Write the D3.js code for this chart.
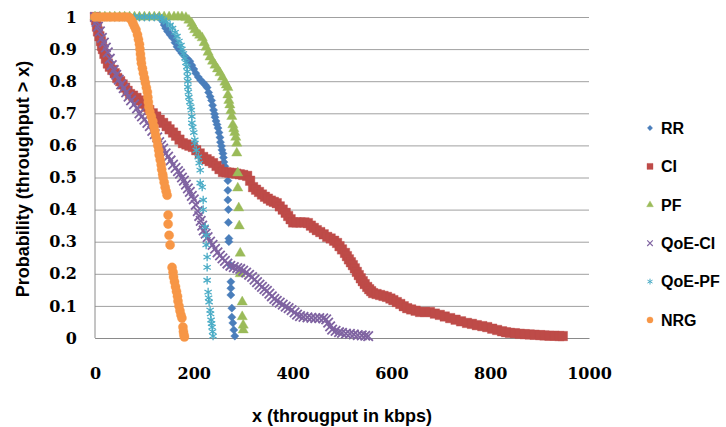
<!DOCTYPE html>
<html>
<head>
<meta charset="utf-8">
<script src="https://cdn.jsdelivr.net/npm/d3@7"></script>
<style>
  body { margin: 0; background: #fff; }
  svg { display: block; }
</style>
</head>
<body>
<div id="chart"></div>
<script>
// CCDF points: [throughput kbps, probability]
const rr = [[0,1],[10,1],[20,1],[30,1],[40,1],[50,1],[60,1],[70,1],[80,1],[90,1],[100,1],[110,1],[120,1],[128,1],
  [134,0.995],[138,0.985],[140,0.975],[143,0.965],[147,0.955],[152,0.945],[157,0.935],[162,0.92],[166,0.907],
  [171,0.897],[176,0.887],[182,0.877],[187,0.87],[192,0.862],[196,0.85],[200,0.838],[204,0.825],[209,0.813],
  [214,0.803],[219,0.795],[224,0.787],[227,0.78],[230,0.765],[233,0.752],[236,0.74],[238,0.725],[240,0.71],
  [242,0.698],[243,0.688],[245,0.676],[247,0.665],[249,0.654],[251,0.64],[253,0.625],[254,0.61],[256,0.598],
  [257,0.586],[259,0.575],[260,0.562],[261,0.548],[263,0.535],[269,0.49],[269,0.46],[269,0.43],[270,0.40],
  [270,0.36],[271,0.31],[271,0.30],[274,0.227],[275,0.175],[275,0.155],[275,0.134],[277,0.093],[277,0.065],
  [279,0.047],[281,0.025],[283,0.006]];

const ci = [[0,1],[2,0.99],[4,0.97],[6,0.955],[9,0.94],[12,0.925],[14,0.91],[16,0.9],[19,0.885],[22,0.87],
  [26,0.855],[30,0.845],[35,0.835],[40,0.825],[45,0.81],[51,0.80],[56,0.79],[61,0.78],[66,0.77],[71,0.76],
  [77,0.755],[84,0.748],[91,0.74],[97,0.73],[104,0.72],[110,0.71],[117,0.70],[124,0.69],[131,0.68],[138,0.67],
  [145,0.66],[151,0.65],[158,0.64],[164,0.63],[171,0.618],[178,0.607],[185,0.603],[191,0.599],[198,0.595],
  [205,0.585],[212,0.575],[219,0.564],[226,0.557],[232,0.551],[239,0.545],[246,0.536],[252,0.526],[259,0.517],
  [266,0.516],[272,0.515],[279,0.514],[286,0.512],[293,0.51],[300,0.508],[308,0.505],[314,0.49],[320,0.47],
  [326,0.462],[332,0.455],[338,0.447],[344,0.44],[350,0.434],[356,0.428],[362,0.424],[368,0.42],[374,0.41],
  [380,0.40],[386,0.39],[391,0.38],[396,0.37],[401,0.36],[408,0.36],[416,0.36],[424,0.36],[431,0.358],
  [437,0.35],[443,0.343],[449,0.336],[456,0.33],[463,0.323],[470,0.315],[477,0.31],[484,0.303],[490,0.296],
  [495,0.286],[500,0.276],[506,0.265],[510,0.255],[514,0.245],[518,0.236],[522,0.227],[526,0.217],[530,0.206],
  [534,0.196],[538,0.186],[542,0.177],[546,0.168],[551,0.159],[555,0.152],[559,0.146],[563,0.14],[570,0.137],
  [577,0.134],[584,0.131],[591,0.128],[598,0.123],[604,0.118],[611,0.112],[618,0.106],[625,0.099],[632,0.093],
  [640,0.089],[649,0.085],[658,0.081],[668,0.081],[678,0.081],[688,0.076],[698,0.072],[708,0.067],[719,0.062],
  [730,0.057],[741,0.052],[753,0.047],[763,0.044],[773,0.040],[784,0.037],[794,0.034],[804,0.029],[814,0.025],
  [824,0.021],[832,0.018],[840,0.016],[850,0.015],[860,0.013],[870,0.012],[880,0.011],[890,0.01],[901,0.009],
  [910,0.008],[920,0.007],[930,0.007],[940,0.006],[947,0.006]];

const pf = [[0,1],[10,1],[20,1],[30,1],[40,1],[50,1],[60,1],[70,1],[80,1],[90,1],[100,1],[110,1],[120,1],
  [130,1],[140,1],[150,1],[160,1],[168,1],[176,1],[184,0.998],[190,0.99],[196,0.98],[199,0.97],[202,0.96],
  [207,0.95],[212,0.943],[217,0.935],[221,0.92],[225,0.906],[229,0.89],[233,0.875],[238,0.862],[243,0.85],
  [248,0.838],[253,0.826],[258,0.812],[263,0.797],[266,0.788],[269,0.78],[269,0.757],[271,0.74],[273,0.726],
  [275,0.708],[277,0.69],[279,0.664],[281,0.652],[283,0.64],[285,0.625],[287,0.607],[287,0.576],[289,0.514],
  [289,0.467],[291,0.405],[292,0.349],[294,0.264],[294,0.2],[298,0.112],[298,0.066],[300,0.04],[300,0.025]];

const qoeCi = [[0,1],[3,0.985],[6,0.97],[10,0.955],[14,0.935],[18,0.92],[22,0.905],[26,0.89],[30,0.87],
  [34,0.85],[38,0.835],[43,0.82],[48,0.805],[53,0.79],[58,0.778],[63,0.765],[68,0.752],[73,0.74],[79,0.728],
  [85,0.715],[90,0.70],[95,0.69],[100,0.68],[106,0.67],[111,0.66],[116,0.645],[121,0.635],[126,0.625],
  [130,0.61],[134,0.60],[138,0.59],[143,0.575],[148,0.565],[153,0.553],[158,0.54],[163,0.53],[168,0.52],
  [172,0.512],[176,0.50],[180,0.49],[184,0.478],[188,0.466],[192,0.455],[196,0.443],[200,0.432],[204,0.415],
  [208,0.395],[211,0.38],[214,0.365],[217,0.35],[220,0.335],[224,0.325],[228,0.314],[233,0.30],[238,0.29],
  [243,0.278],[248,0.267],[253,0.257],[258,0.248],[263,0.24],[268,0.232],[274,0.225],[281,0.221],[288,0.218],
  [294,0.215],[300,0.21],[306,0.204],[312,0.197],[318,0.19],[323,0.182],[328,0.174],[333,0.166],[338,0.159],
  [343,0.152],[348,0.147],[353,0.138],[358,0.13],[363,0.122],[368,0.116],[374,0.11],[380,0.104],[386,0.098],
  [392,0.093],[398,0.087],[404,0.08],[409,0.073],[415,0.068],[422,0.066],[430,0.064],[438,0.063],[446,0.062],
  [454,0.062],[462,0.061],[468,0.058],[472,0.048],[476,0.036],[480,0.026],[487,0.022],[494,0.018],[500,0.016],
  [508,0.014],[516,0.013],[524,0.011],[532,0.009],[540,0.008],[547,0.007],[553,0.006]];

const qoePf = [[0,1],[10,1],[20,1],[30,1],[40,1],[50,1],[60,1],[70,1],[80,1],[90,1],[100,1],[110,1],[120,1],
  [130,1],[135,0.995],[138,0.99],[145,0.985],[152,0.975],[157,0.965],[162,0.952],[166,0.94],[170,0.925],
  [174,0.912],[176,0.9],[179,0.886],[182,0.872],[184,0.858],[186,0.845],[187,0.83],[187,0.815],[188,0.8],
  [188,0.782],[189,0.766],[190,0.75],[192,0.735],[194,0.72],[195,0.71],[196,0.69],[196,0.67],[198,0.657],
  [200,0.64],[202,0.617],[202,0.607],[205,0.585],[209,0.564],[211,0.545],[213,0.523],[213,0.483],[217,0.47],
  [219,0.43],[219,0.40],[223,0.346],[225,0.32],[225,0.29],[227,0.252],[227,0.22],[227,0.18],[229,0.143],
  [230,0.125],[231,0.112],[233,0.087],[234,0.075],[235,0.056],[236,0.045],[237,0.034],[238,0.02],[239,0.006]];

const nrg = [[0,1],[8,1],[16,1],[24,1],[32,1],[40,1],[48,1],[56,1],[64,1],[70,0.998],[74,0.99],[77,0.98],
  [80,0.97],[83,0.96],[86,0.945],[88,0.93],[90,0.915],[91,0.9],[92,0.885],[93,0.87],[94,0.856],[96,0.84],
  [98,0.825],[100,0.81],[102,0.795],[104,0.78],[106,0.766],[107,0.75],[108,0.735],[109,0.72],[111,0.705],
  [114,0.69],[117,0.675],[119,0.66],[121,0.645],[123,0.63],[125,0.617],[127,0.60],[129,0.585],[130,0.57],
  [132,0.555],[134,0.54],[135,0.525],[137,0.51],[138,0.50],[140,0.485],[142,0.47],[144,0.457],[146,0.445],
  [148,0.383],[148,0.355],[150,0.32],[152,0.29],[156,0.22],[158,0.205],[159,0.19],[161,0.175],[163,0.16],
  [165,0.145],[167,0.13],[168,0.115],[170,0.10],[172,0.085],[174,0.072],[176,0.062],[178,0.034],[179,0.02],
  [180,0.01],[181,0.003]];

const seriesNames = ["RR", "CI", "PF", "QoE-CI", "QoE-PF", "NRG"];
const seriesData = [rr, ci, pf, qoeCi, qoePf, nrg];
const xTicks = [0, 200, 400, 600, 800, 1000];
const yTicks = [0, 0.1, 0.2, 0.3, 0.4, 0.5, 0.6, 0.7, 0.8, 0.9, 1];

const width = 726, height = 427;
const colors = ["#4A7EBB", "#BE4B48", "#9BBB59", "#7F63A1", "#4BACC6", "#F79646"];

const svg = d3.select("#chart").append("svg")
  .attr("width", width)
  .attr("height", height)
  .style("background", "#fff");

const x = d3.scaleLinear().domain([0, 1000]).range([95, 589]);
const y = d3.scaleLinear().domain([0, 1]).range([338, 17]);

// gridlines + y labels
const yAxis = svg.append("g")
  .attr("transform", "translate(95,0)")
  .call(d3.axisLeft(y).tickValues(yTicks).tickSize(-494).tickPadding(18).tickFormat(d => String(d)));
yAxis.select(".domain").remove();
yAxis.selectAll(".tick line").attr("stroke", "#a0a0a0");
yAxis.selectAll(".tick text")
  .style("font-family", "'DejaVu Serif', serif")
  .style("font-weight", "bold")
  .style("font-size", "16px")
  .attr("fill", "#000");

// left axis line
svg.append("line")
  .attr("x1", 95).attr("x2", 95)
  .attr("y1", y(1)).attr("y2", y(0))
  .attr("stroke", "#8a8a8a");

const xAxis = svg.append("g")
  .attr("transform", "translate(0,338)")
  .call(d3.axisBottom(x).tickValues(xTicks).tickSize(0).tickPadding(30).tickFormat(d => String(d)));
xAxis.select(".domain").attr("stroke", "#8a8a8a");
xAxis.selectAll(".tick text")
  .style("font-family", "'DejaVu Serif', serif")
  .style("font-weight", "bold")
  .style("font-size", "16px")
  .attr("fill", "#000");

// marker shapes
const symX = d3.symbolX || d3.symbolCross;
const symAst = d3.symbolAsterisk || d3.symbolCross;
const markers = [
  { type: d3.symbolSquare, size: 34, rotate: 45, stroke: false },
  { type: d3.symbolSquare, size: 90, rotate: 0, stroke: false },
  { type: d3.symbolTriangle, size: 46, rotate: 0, stroke: false },
  { type: symX, size: 60, rotate: 0, stroke: true, width: 1.8 },
  { type: symAst, size: 50, rotate: 0, stroke: true, width: 1.3 },
  { type: d3.symbolCircle, size: 66, rotate: 0, stroke: false }
];
const legendMarkers = [
  { type: d3.symbolSquare, size: 14, rotate: 45, stroke: false },
  { type: d3.symbolSquare, size: 36, rotate: 0, stroke: false },
  { type: d3.symbolTriangle, size: 20, rotate: 0, stroke: false },
  { type: symX, size: 22, rotate: 0, stroke: true, width: 1.1 },
  { type: symAst, size: 24, rotate: 0, stroke: true, width: 1 },
  { type: d3.symbolCircle, size: 30, rotate: 0, stroke: false }
];

function applyMarker(sel, m, color) {
  sel.attr("d", d3.symbol().type(m.type).size(m.size)());
  if (m.stroke) {
    sel.attr("fill", "none").attr("stroke", color).attr("stroke-width", m.width);
  } else {
    sel.attr("fill", color).attr("stroke", color).attr("stroke-width", 0.6).attr("stroke-opacity", 0.6);
  }
}

seriesData.forEach((data, i) => {
  const m = markers[i];
  const g = svg.append("g").attr("class", "series");
  g.selectAll("path")
    .data(data)
    .join("path")
    .attr("transform", d => `translate(${x(d[0])},${y(d[1])}) rotate(${m.rotate})`)
    .call(applyMarker, m, colors[i]);
});

// legend
const legend = svg.append("g");
seriesNames.forEach((name, i) => {
  const ly = 128 + i * 38.4;
  legend.append("path")
    .attr("transform", `translate(650,${ly}) rotate(${legendMarkers[i].rotate})`)
    .call(applyMarker, legendMarkers[i], colors[i]);
  legend.append("text")
    .attr("x", 661)
    .attr("y", ly)
    .attr("dy", "0.36em")
    .style("font-family", "'Liberation Sans', Arial, sans-serif")
    .style("font-weight", "bold")
    .style("font-size", "16px")
    .text(name);
});

// axis titles
svg.append("text")
  .attr("x", 342)
  .attr("y", 422)
  .attr("text-anchor", "middle")
  .style("font-family", "'Liberation Sans', Arial, sans-serif")
  .style("font-weight", "bold")
  .style("font-size", "18px")
  .text("x (througput in kbps)");

svg.append("text")
  .attr("transform", "translate(29,179) rotate(-90)")
  .attr("text-anchor", "middle")
  .style("font-family", "'Liberation Sans', Arial, sans-serif")
  .style("font-weight", "bold")
  .style("font-size", "18px")
  .text("Probability (throughput > x)");
</script>
</body>
</html>
